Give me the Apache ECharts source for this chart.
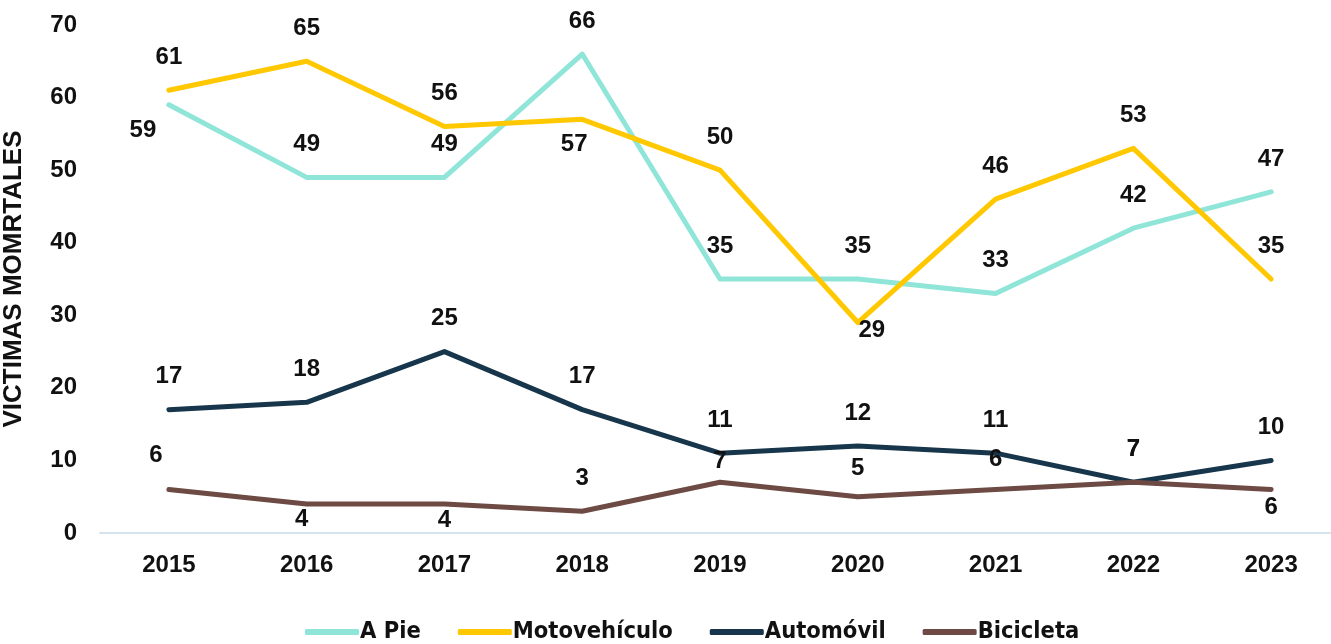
<!DOCTYPE html>
<html>
<head>
    <meta http-equiv="Content-Type" content="text/html; charset=utf-8"/>
    <script src="https://cdn.jsdelivr.net/npm/echarts@6/dist/echarts.min.js"></script>
    <style>
        html, body { margin: 0; padding: 0; background: #fff; }
    </style>
</head>
<body>
<div id="chart" style="width:1331px;height:644px;"></div>

<script type="text/javascript">
    // 年份
    var years = ['2015', '2016', '2017', '2018', '2019', '2020', '2021', '2022', '2023'];
    var seriesNames = ['A Pie', 'Motovehículo', 'Automóvil', 'Bicicleta'];

    // 数据
    var aPie = [59, 49, 49, 66, 35, 35, 33, 42, 47];
    var moto = [61, 65, 56, 57, 50, 29, 46, 53, 35];
    var auto = [17, 18, 25, 17, 11, 12, 11, 7, 10];
    var bici = [6, 4, 4, 3, 7, 5, 6, 7, 6];

    var colors = ['#8ee5d8', '#ffc800', '#17364b', '#6d4a44'];

    // 标签偏移: 默认在点的上方
    var UP = [0, -33];
    var aPieOffsets = [[-26, 26], UP, UP, UP, UP, UP, UP, UP, UP];
    var motoOffsets = [UP, UP, UP, [-8, 25], UP, [14, 8], UP, UP, UP];
    var autoOffsets = [UP, UP, UP, UP, UP, UP, UP, UP, UP];
    var biciOffsets = [[-13, -34], [-5, 15], [0, 16], UP, [0, -21], [0, -28], [0, -30], UP, [0, 18]];

    function makeSeries(name, values, offsets, color) {
        return {
            name: name,
            type: 'line',
            symbol: 'circle',
            symbolSize: 1,
            lineStyle: { width: 5, color: color, cap: 'round', join: 'round' },
            itemStyle: { color: color },
            label: {
                show: true,
                position: 'inside',
                color: '#111',
                fontFamily: 'Liberation Sans',
                fontWeight: 'bold',
                fontSize: 24
            },
            data: values.map(function (v, i) {
                return { value: v, label: { offset: offsets[i] } };
            })
        };
    }

    var myChart = echarts.init(document.getElementById('chart'));
    var option = {
        animation: false,
        backgroundColor: '#fff',
        color: colors,
        grid: { left: 100, top: 25, right: -9, bottom: 111, containLabel: false, outerBoundsMode: 'none' },
        legend: {
            bottom: -5,
            left: 300,
            itemWidth: 54,
            itemHeight: 6,
            itemGap: 37,
            icon: 'roundRect',
            textStyle: {
                fontFamily: "'DejaVu Sans Condensed', 'Liberation Sans'",
                fontWeight: 'bold',
                fontSize: 23.5,
                color: '#111',
                padding: [0, 0, 0, -4]
            },
            data: seriesNames
        },
        xAxis: {
            type: 'category',
            data: years,
            boundaryGap: true,
            axisLine: { lineStyle: { color: '#d5e3ee', width: 2 } },
            axisTick: { show: false },
            axisLabel: {
                margin: 20,
                color: '#111',
                fontFamily: 'Liberation Sans',
                fontWeight: 'bold',
                fontSize: 24
            }
        },
        yAxis: {
            type: 'value',
            min: 0,
            max: 70,
            interval: 10,
            name: 'VICTIMAS MOMRTALES',
            nameLocation: 'middle',
            nameGap: 73,
            nameTextStyle: {
                color: '#111',
                fontFamily: 'Liberation Sans',
                fontWeight: 'bold',
                fontSize: 26
            },
            splitLine: { show: false },
            axisLine: { show: false },
            axisTick: { show: false },
            axisLabel: {
                margin: 23,
                color: '#111',
                fontFamily: 'Liberation Sans',
                fontWeight: 'bold',
                fontSize: 24
            }
        },
        series: [
            makeSeries(seriesNames[0], aPie, aPieOffsets, colors[0]),
            makeSeries(seriesNames[1], moto, motoOffsets, colors[1]),
            makeSeries(seriesNames[2], auto, autoOffsets, colors[2]),
            makeSeries(seriesNames[3], bici, biciOffsets, colors[3])
        ]
    };
    myChart.setOption(option);
</script>
</body>
</html>
